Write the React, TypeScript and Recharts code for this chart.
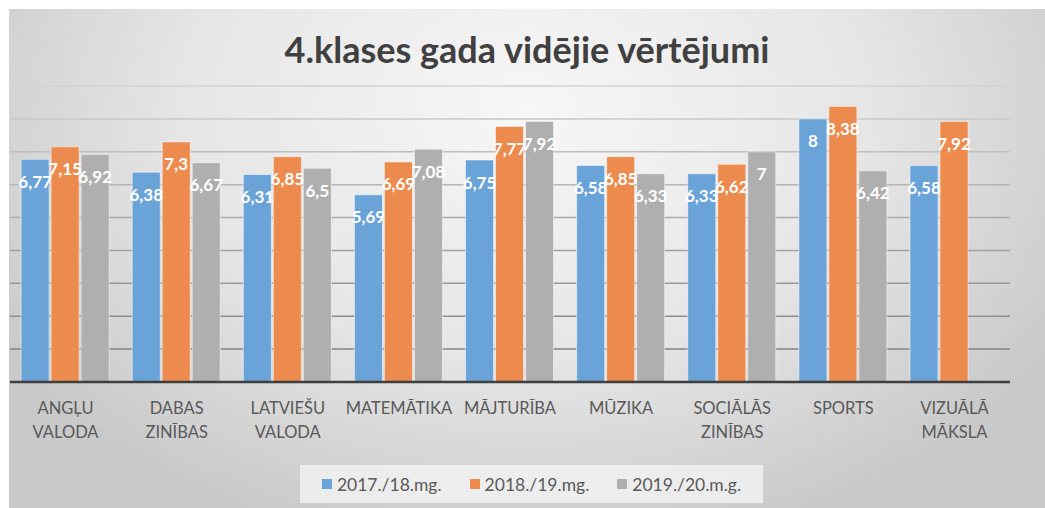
import { Bar, BarChart, CartesianGrid, LabelList, XAxis, YAxis } from "recharts"

const categories = [
  "ANGĻU VALODA",
  "DABAS ZINĪBAS",
  "LATVIEŠU VALODA",
  "MATEMĀTIKA",
  "MĀJTURĪBA",
  "MŪZIKA",
  "SOCIĀLĀS ZINĪBAS",
  "SPORTS",
  "VIZUĀLĀ MĀKSLA",
]
const y2017 = [6.77, 6.38, 6.31, 5.69, 6.75, 6.58, 6.33, 8, 6.58]
const y2018 = [7.15, 7.3, 6.85, 6.69, 7.77, 6.85, 6.62, 8.38, 7.92]
const y2019 = [6.92, 6.67, 6.5, 7.08, 7.92, 6.33, 7, 6.42, null]
const seriesNames = ["2017./18.mg.", "2018./19.mg.", "2019./20.m.g."]
const seriesColors = ["#6aa3d8", "#ec8b4d", "#afafaf"]
const yTicks = [0, 1, 2, 3, 4, 5, 6, 7, 8, 9]

const data = categories.map((name, i) => ({ name, a: y2017[i], b: y2018[i], c: y2019[i] }))
const keys = ["a", "b", "c"]

const font = "Lato, 'Open Sans', sans-serif"

function ValueLabel(props: any) {
  const { x, y, width, value } = props
  if (value == null) return null
  return (
    <text
      x={x + width / 2}
      y={y + 22}
      textAnchor="middle"
      dominantBaseline="central"
      fill="#ffffff"
      fontFamily={font}
      fontWeight={700}
      fontSize={17}
    >
      {String(value).replace(".", ",")}
    </text>
  )
}

function CategoryTick(props: any) {
  const { x, y, payload } = props
  const words = String(payload.value).split(" ")
  return (
    <text x={x} y={y} textAnchor="middle" fill="#595959" fontFamily={font} fontSize={16.5}>
      {words.map((w, i) => (
        <tspan key={i} x={x} dy={i === 0 ? 24 : 24}>
          {w}
        </tspan>
      ))}
    </text>
  )
}

export default function App() {
  return (
    <div style={{ position: "absolute", left: 0, top: 0, width: 1045, height: 508, background: "#fff" }}>
      <div
        style={{
          position: "absolute",
          left: 9,
          top: 9,
          width: 1036,
          height: 499,
          background: "radial-gradient(ellipse 60% 90% at 50% 20%, #f7f7f7 0%, #e6e6e6 55%, #c9c9c9 100%)",
        }}
      >
        <div
          style={{
            position: "absolute",
            left: 0,
            top: 18,
            width: 1036,
            textAlign: "center",
            fontFamily: font,
            fontWeight: 700,
            fontSize: 36,
            color: "#404040",
          }}
        >
          4.klases gada vidējie vērtējumi
        </div>
        <BarChart
          width={1036}
          height={499}
          data={data}
          margin={{ top: 77, right: 35, left: 1, bottom: 66 }}
          barCategoryGap="10%"
          barGap={2}
        >
          <defs>
            <linearGradient id="gridFade" gradientUnits="userSpaceOnUse" x1="0" y1="77" x2="0" y2="373">
              <stop offset="0%" stopColor="#d2d2d2" />
              <stop offset="100%" stopColor="#7a7a7a" />
            </linearGradient>
          </defs>
          <CartesianGrid vertical={false} stroke="url(#gridFade)" strokeWidth={1.5} />
          <YAxis hide domain={[0, 9]} ticks={yTicks} />
          <XAxis
            dataKey="name"
            interval={0}
            height={60}
            tickLine={false}
            axisLine={{ stroke: "#3f3f3f", strokeWidth: 2.5 }}
            tick={<CategoryTick />}
          />
          {keys.map((k, i) => (
            <Bar
              key={k}
              dataKey={k}
              name={seriesNames[i]}
              fill={seriesColors[i]}
              stroke="rgba(255,255,255,0.5)"
              strokeWidth={1}
              isAnimationActive={false}
            >
              <LabelList dataKey={k} content={<ValueLabel />} />
            </Bar>
          ))}
        </BarChart>
        <div
          style={{
            position: "absolute",
            left: 291,
            top: 456,
            width: 463,
            height: 38,
            background: "rgba(245,245,245,0.75)",
            display: "flex",
            alignItems: "center",
            justifyContent: "center",
            gap: 28,
            fontFamily: font,
            fontSize: 17.5,
            color: "#595959",
          }}
        >
          {seriesNames.map((n, i) => (
            <div key={n} style={{ display: "flex", alignItems: "center" }}>
              <span style={{ display: "inline-block", width: 10, height: 10, background: seriesColors[i], marginRight: 5 }} />
              {n}
            </div>
          ))}
        </div>
      </div>
    </div>
  )
}
